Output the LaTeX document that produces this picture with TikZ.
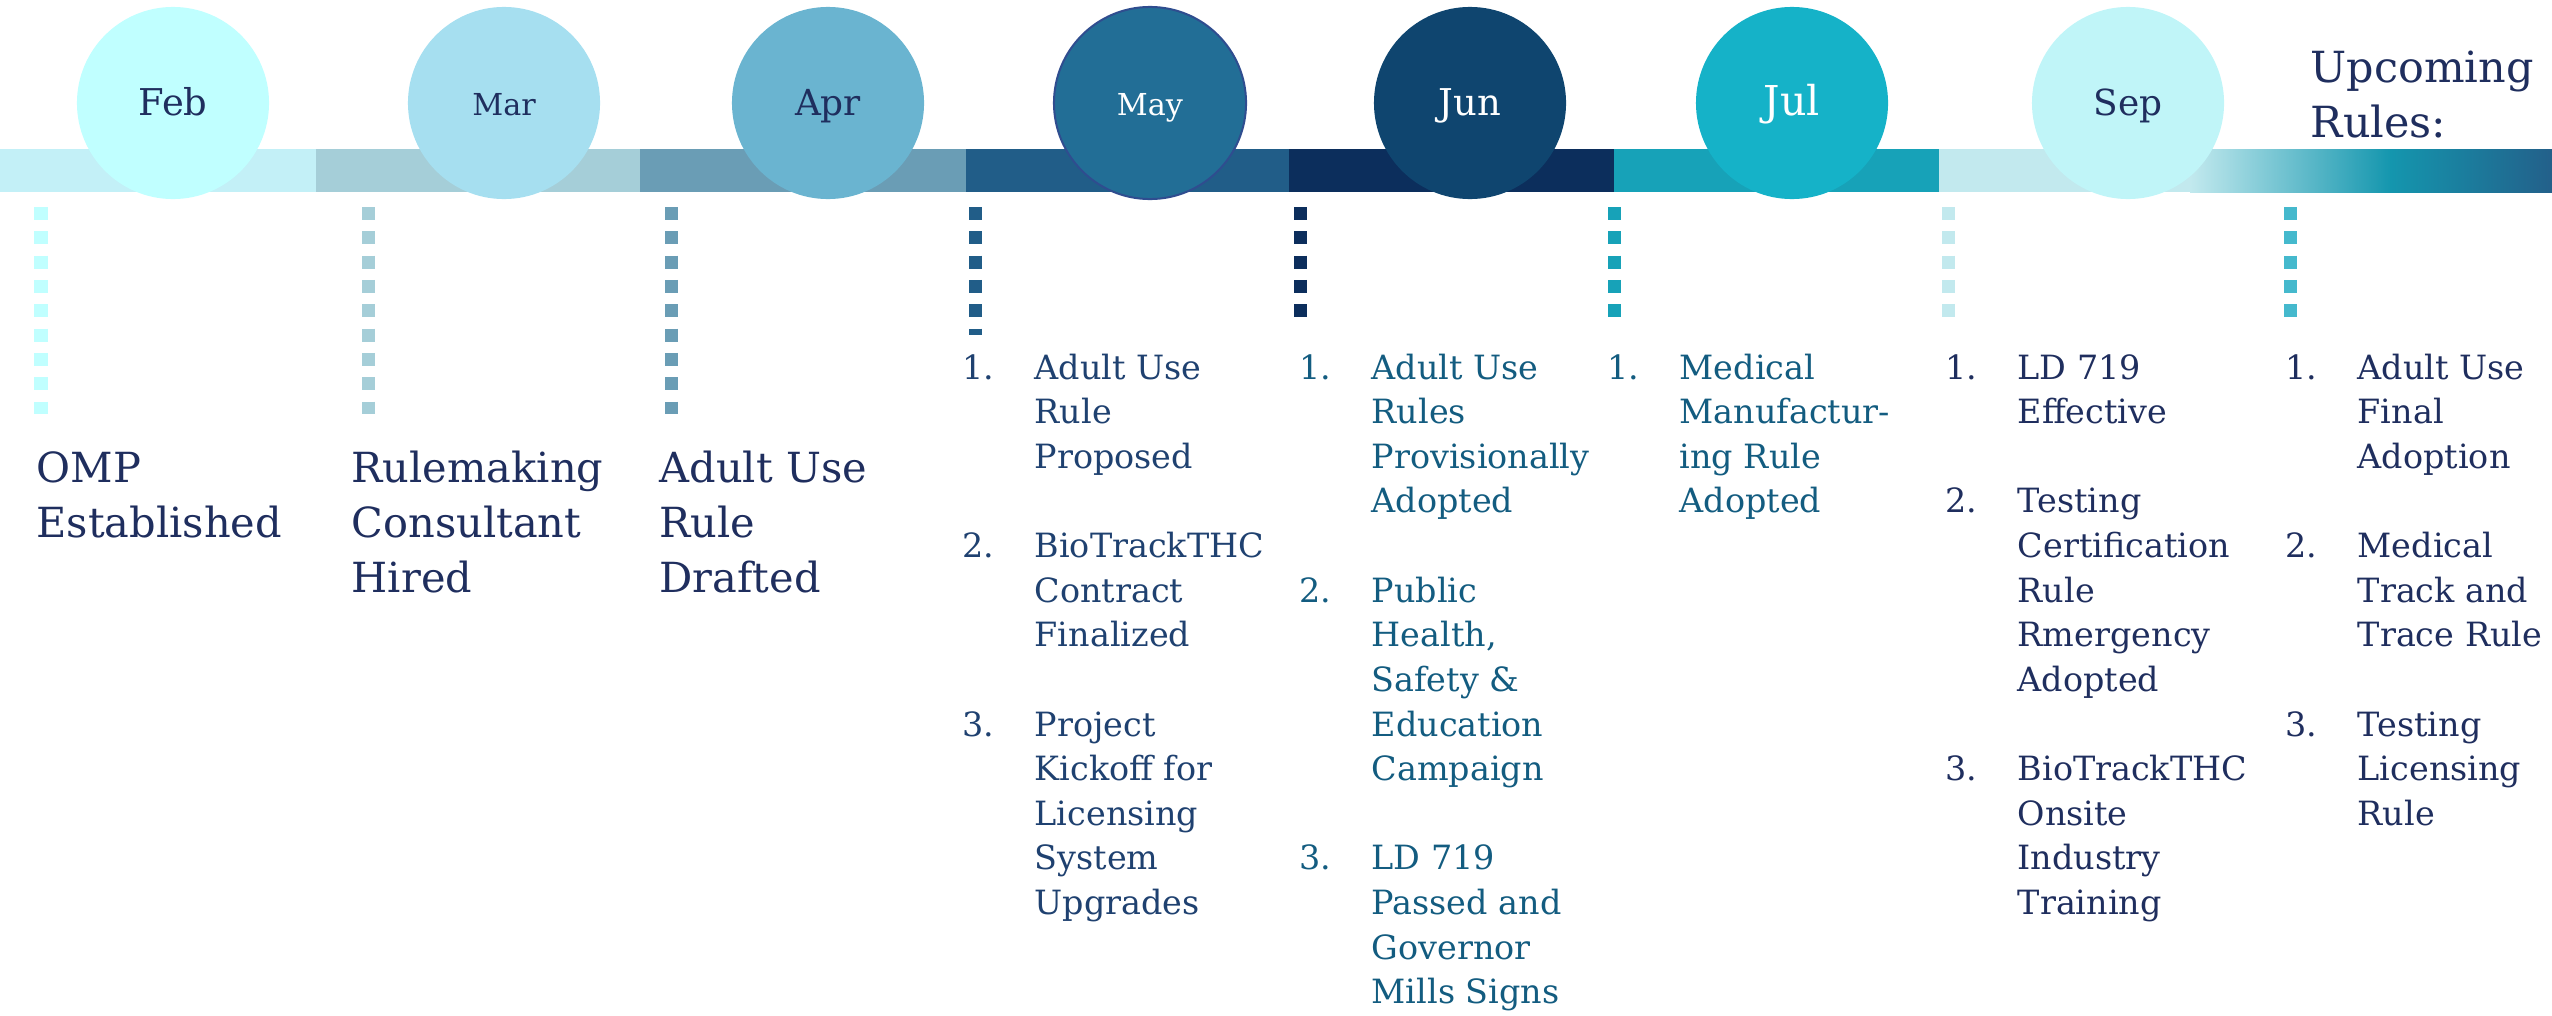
\documentclass[tikz,border=0pt]{standalone}
\usepackage{fontspec}
\setmainfont{DejaVu Serif}

\definecolor{navy}{HTML}{1F2E5E}
\definecolor{txtMay}{HTML}{1F4170}
\definecolor{txtTeal}{HTML}{135C80}
\definecolor{barFeb}{HTML}{C3F0F7}
\definecolor{barMar}{HTML}{A5CED8}
\definecolor{barApr}{HTML}{6A9DB5}
\definecolor{barMay}{HTML}{215D88}
\definecolor{barJun}{HTML}{0C2E5C}
\definecolor{barJul}{HTML}{17A2B8}
\definecolor{barSep}{HTML}{C2E9EE}
\definecolor{barUpA}{HTML}{1496AE}
\definecolor{barUpB}{HTML}{23608A}
\definecolor{dotUp}{HTML}{45B9CD}
\definecolor{cFeb}{HTML}{C0FFFF}
\definecolor{cMar}{HTML}{A6DFF0}
\definecolor{cApr}{HTML}{6AB4D0}
\definecolor{cMay}{HTML}{226E96}
\definecolor{cJun}{HTML}{0F456F}
\definecolor{cJul}{HTML}{15B2C8}
\definecolor{cSep}{HTML}{C0F5F8}
\definecolor{mayRing}{HTML}{2F4D8F}

\newcommand\rows[1]{\begin{tabular}[t]{@{}l@{}}#1\end{tabular}}
\newcommand\items[1]{\begin{tabular}[t]{@{}p{0.72cm}@{}l@{}}#1\end{tabular}}

\begin{document}
\begin{tikzpicture}[x=0.01cm, y=-0.01cm,
	circ/.style={circle, minimum size=1.92cm, inner sep=0pt, text height=1.4ex, text depth=0pt},
	dots/.style={line width=0.13cm, dash pattern=on 0.13cm off 0.113cm},
	big/.style={anchor=base west, inner sep=0pt, text=navy, font=\fontsize{11.8}{15.65}\selectfont},
	list/.style={anchor=base west, inner sep=0pt, font=\fontsize{9.5}{12.69}\selectfont}]

	\useasboundingbox (0,0) rectangle (2552,1015);

	% timeline bar
	\foreach \a/\b/\c in {0/316/barFeb, 316/640/barMar, 640/966/barApr, 966/1289/barMay, 1289/1614/barJun, 1614/1939/barJul, 1939/2191/barSep}
		\fill[\c] (\a,149) rectangle (\b,192);
	\shade[left color=barSep, right color=barUpA] (2190,149) rectangle (2391,192);
	\shade[left color=barUpA, right color=barUpB] (2390,149) rectangle (2552,192);

	\foreach \x/\e/\c in {41/414/cFeb, 368/414/barMar, 671/414/barApr, 975/335/barMay, 1300/317/barJun, 1614/317/barJul, 1948/317/barSep, 2290/317/dotUp}
		\draw[dots, \c] (\x,207) -- (\x,\e);

	% months
	\node[circ, fill=cFeb, text=navy, font=\fontsize{10.5}{12}\selectfont] (feb) at (173,103) {Feb};
	\node[circ, fill=cMar, text=navy, font=\fontsize{8.6}{10}\selectfont] (mar) at (504,103) {Mar};
	\node[circ, fill=cApr, text=navy, font=\fontsize{10.2}{12}\selectfont] (apr) at (828,103) {Apr};
	\node[circ, fill=cMay, draw=mayRing, line width=0.02cm, text=white, font=\fontsize{8.6}{10}\selectfont] (may) at (1150,103) {May};
	\node[circ, fill=cJun, text=white, font=\fontsize{10.5}{12}\selectfont] (jun) at (1470,103) {Jun};
	\node[circ, fill=cJul, text=white, font=\fontsize{11.7}{14}\selectfont] (jul) at (1792,103) {Jul};
	\node[circ, fill=cSep, text=navy, font=\fontsize{10.2}{12}\selectfont] (sep) at (2128,103) {Sep};

	\node[anchor=base west, inner sep=0pt, text=navy, font=\fontsize{12.2}{15.9}\selectfont] (upcoming) at (2310,82) {\rows{Upcoming\\Rules:}};

	% milestones
	\node[big] (omp) at (36,482) {\rows{OMP\\Established}};
	\node[big] (consultant) at (351,482) {\rows{Rulemaking\\Consultant\\Hired}};
	\node[big] (drafted) at (659,482) {\rows{Adult Use\\Rule\\Drafted}};

	\node[list, text=txtMay] (mayitems) at (962,379) {\items{1.&Adult Use\\&Rule\\&Proposed\\&\\2.&BioTrackTHC\\&Contract\\&Finalized\\&\\3.&Project\\&Kickoff for\\&Licensing\\&System\\&Upgrades}};
	\node[list, text=txtTeal] (junitems) at (1299,379) {\items{1.&Adult Use\\&Rules\\&Provisionally\\&Adopted\\&\\2.&Public\\&Health,\\&Safety \&\\&Education\\&Campaign\\&\\3.&LD 719\\&Passed and\\&Governor\\&Mills Signs}};
	\node[list, text=txtTeal] (julitems) at (1607,379) {\items{1.&Medical\\&Manufactur-\\&ing Rule\\&Adopted}};
	\node[list, text=navy] (sepitems) at (1945,379) {\items{1.&LD 719\\&Effective\\&\\2.&Testing\\&Certification\\&Rule\\&Rmergency\\&Adopted\\&\\3.&BioTrackTHC\\&Onsite\\&Industry\\&Training}};
	\node[list, text=navy] (upitems) at (2285,379) {\items{1.&Adult Use\\&Final\\&Adoption\\&\\2.&Medical\\&Track and\\&Trace Rule\\&\\3.&Testing\\&Licensing\\&Rule}};

\end{tikzpicture}
\end{document}
